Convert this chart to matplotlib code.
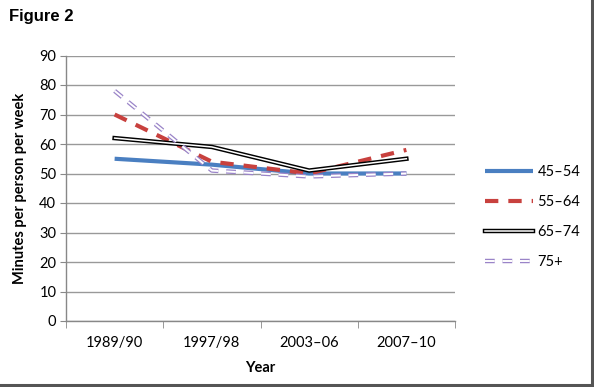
import matplotlib
matplotlib.use("Agg")
import matplotlib.pyplot as plt
from matplotlib.lines import Line2D
import matplotlib.patheffects as pe

categories = ["1989/90", "1997/98", "2003–06", "2007–10"]
s45 = [55, 53, 50, 50]
s55 = [70, 54, 50, 58]
s65 = [62, 59, 51, 55]
s75 = [78, 51, 49, 50]
labels = ["45–54", "55–64", "65–74", "75+"]

plt.rcParams['font.family'] = ['Lato', 'DejaVu Sans']

fig = plt.figure(figsize=(5.94, 3.87), dpi=100)
ax = fig.add_axes([66/594, 1-321/387, (455-66)/594, (321-55.5)/387])

x = list(range(len(categories)))
l1, = ax.plot(x, s45, color='#4a7fc1', lw=3.0, solid_capstyle='butt', label=labels[0])
l2, = ax.plot(x, s55, color='#c8413e', lw=3.0, dashes=(3.2, 2.4), label=labels[1])
l3, = ax.plot(x, s65, color='white', lw=1.1, label=labels[2],
              path_effects=[pe.Stroke(linewidth=3.2, foreground='black'), pe.Normal()])
l4, = ax.plot(x, s75, color='white', lw=1.4, dashes=(5, 4), label=labels[3],
              path_effects=[pe.Stroke(linewidth=3.2, foreground='#9a84c8'), pe.Normal()])

ax.set_xlim(-0.5, 3.5)
ax.set_ylim(0, 90)
ax.set_yticks(range(0, 91, 10))
ax.set_xticks(x)
ax.set_xticklabels(categories)
ax.set_xticks([-0.5, 0.5, 1.5, 2.5, 3.5], minor=True)
ax.tick_params(axis='x', which='major', length=0, pad=11, labelsize=10.5)
ax.tick_params(axis='x', which='minor', length=5, color='#888888', direction='out')
ax.tick_params(axis='y', length=4, color='#888888', labelsize=10.5, pad=3)
ax.yaxis.grid(True, color='#999999', lw=1.0)
ax.set_axisbelow(True)
for s in ['top', 'right']:
    ax.spines[s].set_visible(False)
for s in ['left', 'bottom']:
    ax.spines[s].set_color('#888888')
    ax.spines[s].set_linewidth(1.0)

ax.set_ylabel("Minutes per person per week", fontsize=10.5, fontweight='bold', labelpad=9)
ax.set_xlabel("Year", fontsize=10.5, fontweight='bold', labelpad=8)

fig.legend(handles=[l1, l2, l3, l4], loc='center left', bbox_to_anchor=(472/594, 1-217/387),
           frameon=False, fontsize=10.5, handlelength=3.3, handletextpad=0.3, labelspacing=1.1)

fig.text(9/594, 1-16/387, "Figure 2", fontsize=12, fontweight='bold',
         family=['Liberation Sans'], va='center', ha='left')

# frame shadow
fig.add_artist(Line2D([591.5/594, 591.5/594], [1-384/387, 1], transform=fig.transFigure,
                      color='#555555', lw=2.2))
fig.add_artist(Line2D([0, 593/594], [1-384.5/387, 1-384.5/387], transform=fig.transFigure,
                      color='#555555', lw=2.2))

fig.savefig("out.png", dpi=100)
